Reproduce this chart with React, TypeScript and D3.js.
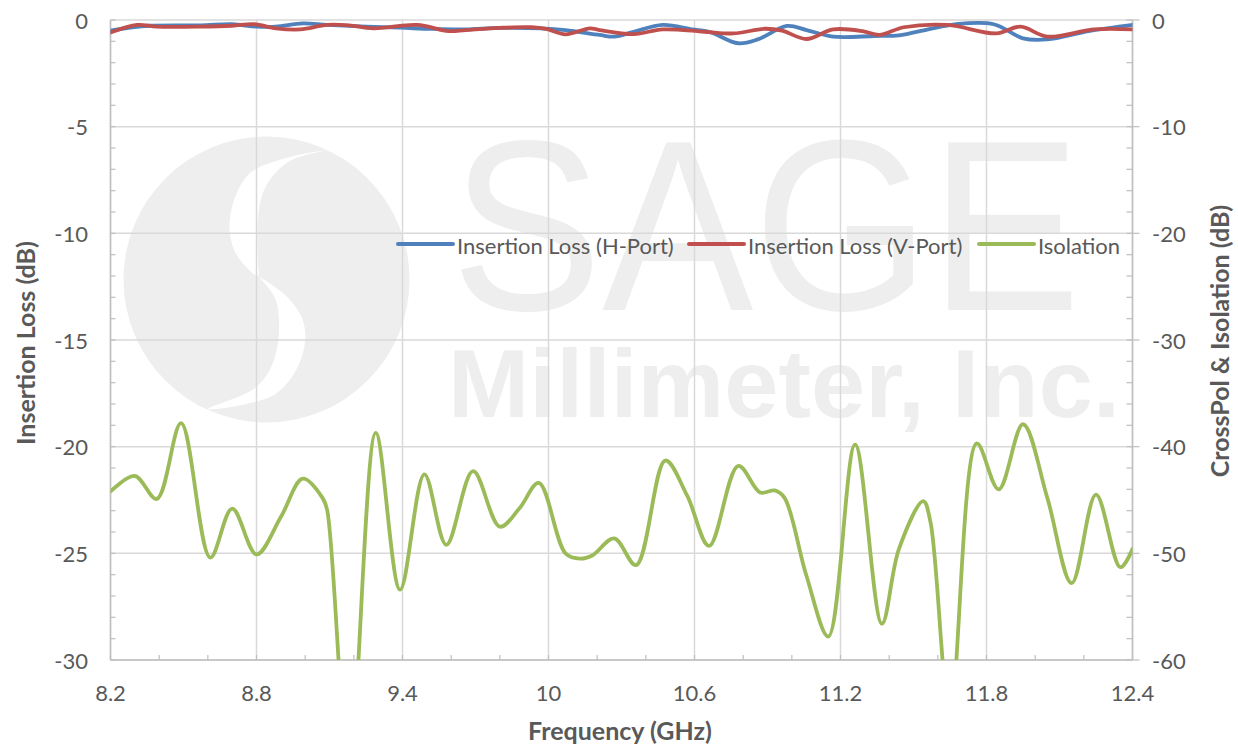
import * as d3 from "d3";

// Insertion loss, H-Port (left axis, dB)
const hPortFreq = [8.2, 8.29, 8.36, 8.57, 8.7, 8.8, 8.88, 8.99, 9.09, 9.25, 9.39, 9.52, 9.66, 9.8, 9.97, 10.07, 10.21, 10.27, 10.35, 10.47, 10.59, 10.66, 10.78, 10.86, 10.98, 11.06, 11.17, 11.34, 11.44, 11.56, 11.67, 11.83, 11.95, 12.05, 12.22, 12.4];
const hPortLoss = [-0.5, -0.34, -0.27, -0.25, -0.2, -0.31, -0.31, -0.16, -0.23, -0.31, -0.36, -0.42, -0.44, -0.37, -0.39, -0.47, -0.7, -0.78, -0.55, -0.23, -0.44, -0.55, -1.09, -0.91, -0.28, -0.47, -0.78, -0.75, -0.72, -0.44, -0.2, -0.2, -0.86, -0.91, -0.52, -0.23];

// Insertion loss, V-Port (left axis, dB)
const vPortFreq = [8.2, 8.31, 8.39, 8.57, 8.7, 8.79, 8.88, 8.98, 9.09, 9.18, 9.28, 9.46, 9.59, 9.66, 9.8, 9.93, 9.99, 10.07, 10.17, 10.21, 10.35, 10.47, 10.64, 10.76, 10.89, 10.96, 11.06, 11.17, 11.29, 11.36, 11.46, 11.64, 11.84, 11.94, 12.05, 12.24, 12.4];
const vPortLoss = [-0.59, -0.23, -0.31, -0.31, -0.27, -0.2, -0.39, -0.44, -0.23, -0.25, -0.39, -0.23, -0.52, -0.47, -0.37, -0.34, -0.42, -0.67, -0.39, -0.47, -0.66, -0.44, -0.55, -0.63, -0.41, -0.5, -0.89, -0.44, -0.52, -0.7, -0.34, -0.23, -0.63, -0.31, -0.78, -0.44, -0.44];

// Isolation (right axis, dB)
const isoFreq = [8.2, 8.3, 8.39, 8.49, 8.61, 8.7, 8.8, 8.9, 8.99, 9.07, 9.09, 9.18, 9.29, 9.39, 9.49, 9.58, 9.69, 9.8, 9.88, 9.96, 10.07, 10.13, 10.18, 10.27, 10.36, 10.48, 10.57, 10.66, 10.78, 10.87, 10.93, 10.97, 11.06, 11.15, 11.26, 11.37, 11.44, 11.54, 11.57, 11.65, 11.76, 11.85, 11.95, 12.05, 12.15, 12.25, 12.35, 12.4];
const isoDb = [-44.2, -42.75, -44.9, -37.8, -50.4, -45.8, -50.1, -46.6, -43.0, -44.75, -45.9, -70, -38.7, -53.4, -42.6, -49.2, -42.3, -47.5, -45.8, -43.4, -50.0, -50.5, -50.2, -48.6, -51.1, -41.3, -44.6, -49.3, -41.8, -44.3, -44.1, -44.8, -52.1, -57.8, -39.8, -56.6, -49.6, -45.1, -47.1, -65, -39.7, -44.0, -37.9, -44.8, -52.8, -44.5, -51.3, -49.6];

const xTicks = [8.2, 8.8, 9.4, 10, 10.6, 11.2, 11.8, 12.4];
const leftTicks = [0, -5, -10, -15, -20, -25, -30];
const rightTicks = [0, -10, -20, -30, -40, -50, -60];

const series = [
  { label: "Insertion Loss (H-Port)", color: "#4f81bd", freq: hPortFreq, values: hPortLoss, axis: "left" },
  { label: "Insertion Loss (V-Port)", color: "#c0504d", freq: vPortFreq, values: vPortLoss, axis: "left" },
  { label: "Isolation", color: "#9bbb59", freq: isoFreq, values: isoDb, axis: "right" },
];

const font = "Lato, 'Open Sans', sans-serif";
const textColor = "#595959";
const gridColor = "#d9d9d9";
const axisColor = "#bfbfbf";

// logo watermark outlines (decoration only)
const upperGap: [number, number][] = [[328, 150], [290, 157], [248, 175], [230, 218], [235, 252], [258, 276], [258, 262], [258, 218], [265, 188], [288, 162], [328, 150]];
const lowerGap: [number, number][] = [[258, 276], [275, 298], [279, 332], [272, 365], [255, 388], [208, 409], [272, 396], [295, 372], [305, 342], [302, 318], [285, 295], [258, 276]];

function Watermark() {
  const fill = "#eeeeee";
  const shape = d3.line().curve(d3.curveCatmullRom.alpha(0.5));
  return (
    <g>
      <circle cx={266.5} cy={279.5} r={143} fill={fill} />
      <path d={shape(upperGap) ?? ""} fill="#ffffff" />
      <path d={shape(lowerGap) ?? ""} fill="#ffffff" />
      <text x={451} y={310} fontFamily="'Liberation Sans', Arial, sans-serif" fontSize={244} fill={fill} textLength={630} lengthAdjust="spacingAndGlyphs">
        SAGE
      </text>
      <text x={448} y={417} fontFamily="'Liberation Sans', Arial, sans-serif" fontWeight="bold" fontSize={96} fill={fill} textLength={672} lengthAdjust="spacingAndGlyphs">
        Millimeter, Inc.
      </text>
    </g>
  );
}

export default function App() {
  const width = 1238;
  const height = 744;
  const plot = { left: 110.5, right: 1132.5, top: 20, bottom: 660 };

  const x = d3.scaleLinear().domain([8.2, 12.4]).range([plot.left, plot.right]);
  const yLeft = d3.scaleLinear().domain([-30, 0]).range([plot.bottom, plot.top]);
  const yRight = d3.scaleLinear().domain([-60, 0]).range([plot.bottom, plot.top]);

  const xMinor = d3.range(0, 22).map((i) => 8.2 + i * 0.2);
  const yMinor = d3.range(0, 31).map((i) => -i);

  const legendX = [398, 689, 979];
  const legendY = 244;

  return (
    <svg width={width} height={height} style={{ position: "absolute", left: 0, top: 0, background: "#fff" }} fontFamily={font}>
      <defs>
        <clipPath id="plot-clip">
          <rect x={plot.left} y={plot.top - 6} width={plot.right - plot.left} height={plot.bottom - plot.top + 6} />
        </clipPath>
      </defs>
      <Watermark />

      {/* grid */}
      {leftTicks.map((t) => (
        <line key={`h${t}`} x1={plot.left} x2={plot.right} y1={yLeft(t)} y2={yLeft(t)} stroke={gridColor} strokeWidth={1.5} />
      ))}
      {xTicks.map((t) => (
        <line key={`v${t}`} x1={x(t)} x2={x(t)} y1={plot.top} y2={plot.bottom} stroke={gridColor} strokeWidth={1.5} />
      ))}

      {/* axes */}
      <line x1={plot.left} x2={plot.left} y1={plot.top} y2={plot.bottom} stroke={axisColor} strokeWidth={1.5} />
      <line x1={plot.right} x2={plot.right} y1={plot.top} y2={plot.bottom} stroke={axisColor} strokeWidth={1.5} />
      <line x1={plot.left} x2={plot.right} y1={plot.bottom} y2={plot.bottom} stroke={axisColor} strokeWidth={1.5} />
      {yMinor.map((t) => (
        <g key={`ym${t}`}>
          <line x1={plot.left} x2={plot.left + 5} y1={yLeft(t)} y2={yLeft(t)} stroke={axisColor} strokeWidth={1.2} />
          <line x1={plot.right - 6} x2={plot.right} y1={yLeft(t)} y2={yLeft(t)} stroke={axisColor} strokeWidth={1.2} />
        </g>
      ))}
      {rightTicks.map((t) => (
        <line key={`rt${t}`} x1={plot.right} x2={plot.right + 7} y1={yRight(t)} y2={yRight(t)} stroke={axisColor} strokeWidth={1.2} />
      ))}
      {xMinor.map((t, i) => (
        <line key={`xm${i}`} x1={x(t)} x2={x(t)} y1={plot.bottom} y2={plot.bottom - 5} stroke={axisColor} strokeWidth={1.2} />
      ))}

      {/* tick labels */}
      {leftTicks.map((t) => (
        <text key={`lt${t}`} x={88} y={yLeft(t)} textAnchor="end" dominantBaseline="central" fontSize={22} fill={textColor}>
          {t}
        </text>
      ))}
      {rightTicks.map((t) => (
        <text key={`rl${t}`} x={1152} y={yRight(t)} textAnchor="start" dominantBaseline="central" fontSize={22} fill={textColor}>
          {t}
        </text>
      ))}
      {xTicks.map((t) => (
        <text key={`xl${t}`} x={x(t)} y={692} textAnchor="middle" dominantBaseline="central" fontSize={22} fill={textColor}>
          {t}
        </text>
      ))}

      {/* axis titles */}
      <text x={620} y={730} textAnchor="middle" dominantBaseline="central" fontSize={25} fontWeight="bold" fill={textColor}>
        Frequency (GHz)
      </text>
      <text transform="translate(25,343) rotate(-90)" textAnchor="middle" dominantBaseline="central" fontSize={25} fontWeight="bold" fill={textColor}>
        Insertion Loss (dB)
      </text>
      <text transform="translate(1219,341) rotate(-90)" textAnchor="middle" dominantBaseline="central" fontSize={25} fontWeight="bold" fill={textColor}>
        CrossPol &amp; Isolation (dB)
      </text>

      {/* series */}
      <g clipPath="url(#plot-clip)">
        {series.map((s) => {
          const y = s.axis === "left" ? yLeft : yRight;
          const pts = s.freq.map((f, i) => [f, s.values[i]] as [number, number]);
          const path = d3
            .line<[number, number]>()
            .x((d) => x(d[0]))
            .y((d) => y(d[1]))
            .curve(d3.curveCatmullRom.alpha(0.5))(pts);
          return <path key={s.label} d={path ?? ""} fill="none" stroke={s.color} strokeWidth={3.8} strokeLinejoin="round" strokeLinecap="round" />;
        })}
      </g>

      {/* legend */}
      {series.map((s, i) => (
        <g key={`lg${s.label}`} transform={`translate(${legendX[i]},${legendY})`}>
          <line x1={0} x2={55} y1={0} y2={0} stroke={s.color} strokeWidth={4} strokeLinecap="round" />
          <text x={59} y={1} dominantBaseline="central" fontSize={22} fill={textColor}>
            {s.label}
          </text>
        </g>
      ))}
    </svg>
  );
}
